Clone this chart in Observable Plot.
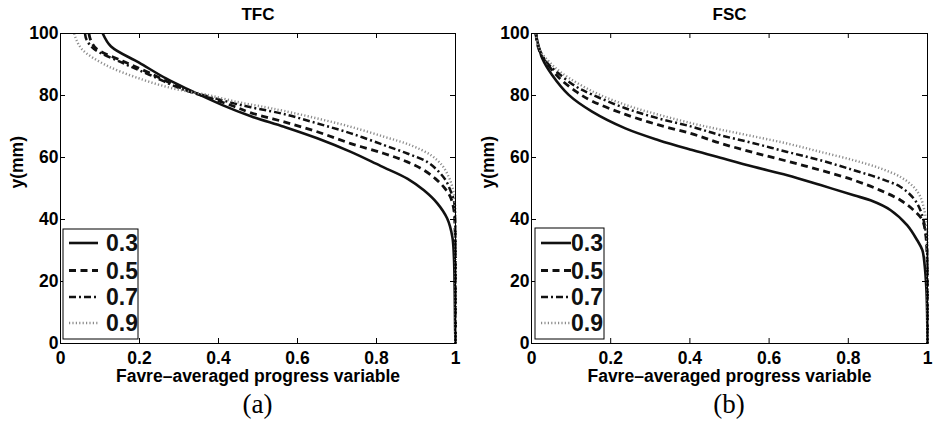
<!DOCTYPE html>
<html>
<head>
<meta charset="utf-8">
<script src="https://cdn.jsdelivr.net/npm/d3@7"></script>
<script src="https://cdn.jsdelivr.net/npm/@observablehq/plot@0.6"></script>
<style>
  body { margin: 0; background: white; }
  #wrap { position: relative; width: 934px; height: 423px; overflow: hidden; background: white; }
  .panel { position: absolute; top: 0; }
  .cap { position: absolute; font-family: "Liberation Serif", "DejaVu Serif", serif; font-size: 27px; transform: translate(-50%, -50%); }
  .leg { position: absolute; top: 0; pointer-events: none; }
</style>
</head>
<body>
<div id="wrap"></div>
<script>
// ---------- data ----------
const xTicks = [0, 0.2, 0.4, 0.6, 0.8, 1];
const yTicks = [0, 20, 40, 60, 80, 100];
const seriesLabels = ["0.3", "0.5", "0.7", "0.9"];
const panelTitles = ["TFC", "FSC"];
const captions = ["(a)", "(b)"];
const xLabel = "Favre–averaged progress variable";
const yLabel = "y(mm)";

// TFC panel: [x, y(mm)]
const tfc03 = [[0.107,100],[0.128,95.8],[0.199,90.6],[0.267,85.5],[0.326,81.8],[0.410,76.9],[0.482,73.3],[0.566,69.9],[0.650,66.2],[0.735,61.8],[0.810,57.3],[0.878,53.2],[0.920,49.4],[0.954,45.2],[0.979,40.3],[0.992,34.4],[0.996,27.9],[0.998,16.1],[0.999,5],[1.0,0]];
const tfc05 = [[0.072,100],[0.076,98],[0.090,95.2],[0.157,91.1],[0.225,87.3],[0.309,82.2],[0.368,79.6],[0.435,76.7],[0.482,74.4],[0.566,71.5],[0.650,68.3],[0.735,64.5],[0.819,61.3],[0.878,58.6],[0.920,55.9],[0.949,53.2],[0.970,50.5],[0.987,47.3],[0.996,43.0],[0.999,36],[1.0,25],[1.0,0]];
const tfc07 = [[0.062,100],[0.066,98],[0.085,95.0],[0.157,90.5],[0.225,86.7],[0.309,82.0],[0.368,79.9],[0.435,77.6],[0.482,76.2],[0.566,74.0],[0.650,71.0],[0.735,67.8],[0.819,64.0],[0.878,61.3],[0.928,58.6],[0.954,55.9],[0.975,52.7],[0.987,49.4],[0.996,46.2],[0.999,40],[1.0,30],[1.0,0]];
const tfc09 = [[0.035,100],[0.040,98],[0.056,94.7],[0.115,89.8],[0.199,85.5],[0.284,82.3],[0.368,80.3],[0.452,77.8],[0.520,76.2],[0.566,75.0],[0.650,72.6],[0.735,69.9],[0.819,66.7],[0.886,64.0],[0.937,60.8],[0.966,57.5],[0.983,53.7],[0.992,50.5],[0.998,46.2],[1.0,40],[1.0,0]];

// FSC panel: [x, y(mm)]
const fsc03 = [[0.011,100],[0.014,98],[0.020,95],[0.027,92.0],[0.052,86.6],[0.094,80.2],[0.153,74.8],[0.237,69.4],[0.321,65.6],[0.406,62.4],[0.477,59.9],[0.561,57.0],[0.646,54.3],[0.730,51.1],[0.814,47.8],[0.856,46.2],[0.907,43.0],[0.949,38.1],[0.974,33.3],[0.987,30.1],[0.993,25],[0.997,18],[0.999,10],[1.0,0]];
const fsc05 = [[0.011,100],[0.016,96],[0.025,93],[0.035,91.0],[0.069,85.8],[0.111,81.4],[0.153,78.2],[0.237,73.9],[0.321,70.5],[0.406,67.6],[0.477,64.6],[0.561,61.6],[0.646,58.8],[0.730,55.9],[0.814,52.7],[0.881,49.4],[0.932,46.2],[0.965,43.0],[0.987,39.8],[0.995,35.5],[0.999,28],[1.0,18],[1.0,0]];
const fsc07 = [[0.011,100],[0.017,96],[0.026,93.2],[0.040,90.5],[0.061,87.9],[0.111,83.0],[0.153,80.3],[0.237,75.9],[0.321,72.6],[0.406,69.9],[0.477,67.2],[0.561,64.6],[0.646,61.8],[0.730,59.1],[0.814,55.9],[0.881,53.2],[0.932,50.5],[0.965,46.8],[0.982,43.0],[0.992,38.7],[0.998,33],[1.0,25],[1.0,0]];
const fsc09 = [[0.011,100],[0.017,96],[0.027,93.5],[0.045,90.8],[0.077,87.2],[0.153,81.4],[0.237,77.0],[0.321,73.8],[0.406,71.0],[0.477,69.0],[0.561,66.8],[0.646,64.5],[0.730,61.8],[0.814,59.1],[0.881,56.5],[0.932,53.7],[0.965,50.5],[0.982,47.3],[0.992,43.0],[0.998,38],[1.0,30],[1.0,0]];

// ---------- styles ----------
const lineStyles = [
  {stroke: "#111", strokeWidth: 2.6, strokeDasharray: null},
  {stroke: "#111", strokeWidth: 2.8, strokeDasharray: "7,4.5"},
  {stroke: "#111", strokeWidth: 2.5, strokeDasharray: "7,3,2,3"},
  {stroke: "#8c8c8c", strokeWidth: 2.4, strokeDasharray: "1.2,2.2"}
];

const FONT = "'Liberation Sans', Arial, Helvetica, sans-serif";
const W = 467, H = 390;
const panels = [
  {left: 0, ml: 60, mr: 12, series: [tfc03, tfc05, tfc07, tfc09],
   leg: {x: 63, y: 229, w: 75, h: 110, s0: 69, s1: 98, tx: 106}},
  {left: 467, ml: 64, mr: 7, series: [fsc03, fsc05, fsc07, fsc09],
   leg: {x: 68, y: 228, w: 69, h: 111, s0: 74, s1: 104, tx: 104}}
];
const mt = 33, mb = 47;

const wrap = document.getElementById("wrap");

panels.forEach((p, i) => {
  const innerW = W - p.ml - p.mr, innerH = H - mt - mb;
  const marks = [
    ...p.series.map((s, j) => Plot.line(s, {
      x: d => d[0], y: d => d[1], curve: "catmull-rom",
      stroke: lineStyles[j].stroke, strokeWidth: lineStyles[j].strokeWidth,
      strokeDasharray: lineStyles[j].strokeDasharray, strokeLinecap: "butt"
    })),
    Plot.frame({stroke: "black", strokeWidth: 1}),
    // inward ticks on all four sides
    Plot.tickX(xTicks, {x: d => d, insetTop: innerH - 5, stroke: "black"}),
    Plot.tickX(xTicks, {x: d => d, insetBottom: innerH - 5, stroke: "black"}),
    Plot.tickY(yTicks, {y: d => d, insetRight: innerW - 5, stroke: "black"}),
    Plot.tickY(yTicks, {y: d => d, insetLeft: innerW - 5, stroke: "black"}),
    Plot.axisX(xTicks, {anchor: "bottom", tickSize: 0, tickPadding: 8, tickFormat: d => String(d),
      fontSize: 17.5, fontWeight: "bold", fontFamily: FONT}),
    Plot.axisY(yTicks, {anchor: "left", tickSize: 0, tickPadding: 2, tickFormat: d => String(d),
      fontSize: 17.5, fontWeight: "bold", fontFamily: FONT}),
    Plot.text([xLabel], {frameAnchor: "bottom", dy: 33, text: d => d, lineAnchor: "middle",
      fontSize: 17.5, fontWeight: "bold", fontFamily: FONT}),
    Plot.text([yLabel], {frameAnchor: "left", dx: -43, rotate: -90, text: d => d, lineAnchor: "middle",
      fontSize: 17.5, fontWeight: "bold", fontFamily: FONT}),
    Plot.text([panelTitles[i]], {frameAnchor: "top", dy: -19, text: d => d, lineAnchor: "middle",
      fontSize: 17, fontWeight: "bold", fontFamily: FONT})
  ];
  const chart = Plot.plot({
    width: W, height: H,
    marginLeft: p.ml, marginRight: p.mr, marginTop: mt, marginBottom: mb,
    x: {domain: [0, 1], axis: null},
    y: {domain: [0, 100], axis: null},
    style: {background: "white", color: "black", fontFamily: FONT, overflow: "visible"},
    marks
  });
  chart.classList.add("panel");
  chart.style.left = p.left + "px";
  wrap.appendChild(chart);

  // legend overlay
  const svg = d3.select(wrap).append("svg").attr("class", "leg")
    .attr("width", W).attr("height", H).style("left", p.left + "px");
  const L = p.leg;
  svg.append("rect").attr("x", L.x)
    .attr("y", L.y).attr("width", L.w).attr("height", L.h)
    .attr("fill", "white").attr("stroke", "black").attr("stroke-width", 1);
  const rowY = [243, 270.5, 297, 323];
  seriesLabels.forEach((lab, j) => {
    const st = lineStyles[j];
    svg.append("line").attr("x1", L.s0).attr("x2", L.s1).attr("y1", rowY[j]).attr("y2", rowY[j])
      .attr("stroke", st.stroke).attr("stroke-width", st.strokeWidth)
      .attr("stroke-dasharray", st.strokeDasharray);
    svg.append("text").attr("x", L.tx).attr("y", rowY[j] + 8).text(lab)
      .attr("font-family", FONT).attr("font-weight", "bold").attr("font-size", 23).attr("fill", "#111");
  });

  const cap = document.createElement("div");
  cap.className = "cap";
  cap.textContent = captions[i];
  cap.style.left = (p.left + p.ml + innerW / 2) + "px";
  cap.style.top = "404px";
  wrap.appendChild(cap);
});
</script>
</body>
</html>
